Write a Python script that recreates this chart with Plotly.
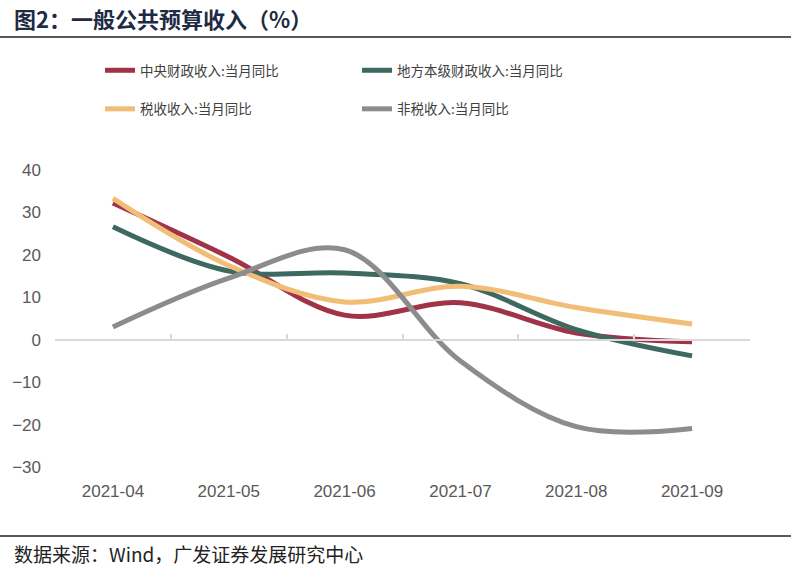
import plotly.graph_objects as go

months = ["2021-04", "2021-05", "2021-06", "2021-07", "2021-08", "2021-09"]
central = [32.2, 19.5, 5.8, 8.7, 1.6, -0.5]
local = [26.6, 16.2, 15.7, 13.2, 2.4, -3.8]
tax = [33.3, 17.5, 8.9, 12.6, 7.6, 3.7]
nontax = [3.0, 14.5, 21.2, -5.0, -20.5, -20.9]

names = ["中央财政收入:当月同比", "地方本级财政收入:当月同比", "税收收入:当月同比", "非税收入:当月同比"]
colors = ["#A03347", "#3E6961", "#F2BD77", "#8C8C8C"]
series = [central, local, tax, nontax]
legends = ["legend", "legend2", "legend", "legend2"]

yticks = [-30, -20, -10, 0, 10, 20, 30, 40]

fig = go.Figure()
for i, (nm, vals, col, lg) in enumerate(zip(names, series, colors, legends)):
    fig.add_trace(go.Scatter(
        x=months, y=vals, name=nm, mode="lines",
        line=dict(color=col, width=5, shape="spline", smoothing=1),
        legend=lg, legendgroup=f"g{i}",
    ))

n = len(months)
cjk = "Noto Sans CJK SC"
fig.update_layout(
    width=791, height=574,
    margin=dict(l=55, r=41, t=170, b=107),
    paper_bgcolor="white", plot_bgcolor="white",
    xaxis=dict(type="category", range=[-0.5, n - 0.5], showline=False, showgrid=False,
               zeroline=False, ticks="", ticklabelstandoff=12,
               tickfont=dict(family="Liberation Sans", size=17, color="#595959")),
    xaxis2=dict(overlaying="x", anchor="free", position=30 / 70, range=[-0.5, n - 0.5],
                tickmode="array", tickvals=[k - 0.5 for k in range(n + 1)],
                ticks="inside", ticklen=5, tickwidth=2, tickcolor="#D9D9D9",
                showticklabels=False, showline=True, linecolor="#D9D9D9", linewidth=2,
                showgrid=False, zeroline=False),
    yaxis=dict(range=[-30, 40], tickvals=yticks, showgrid=False, zeroline=False,
               showline=False, ticks="", ticklabelstandoff=13,
               tickfont=dict(family="Liberation Sans", size=17, color="#595959")),
    legend=dict(x=(100 - 55) / 695, y=(467 - 55) / 297, xanchor="left", yanchor="top",
                tracegroupgap=18, font=dict(family=cjk, size=13.5, color="#404040"),
                bgcolor="rgba(0,0,0,0)"),
    legend2=dict(x=(357 - 55) / 695, y=(467 - 55) / 297, xanchor="left", yanchor="top",
                 tracegroupgap=18, font=dict(family=cjk, size=13.5, color="#404040"),
                 bgcolor="rgba(0,0,0,0)"),
    showlegend=True,
    shapes=[
        dict(type="line", xref="paper", yref="paper", x0=-55 / 695, x1=(791 - 55) / 695,
             y0=(467 - 37) / 297, y1=(467 - 37) / 297, line=dict(color="#222222", width=1.5)),
        dict(type="line", xref="paper", yref="paper", x0=-55 / 695, x1=(791 - 55) / 695,
             y0=(467 - 536) / 297, y1=(467 - 536) / 297, line=dict(color="#222222", width=1.5)),
    ],
    annotations=[
        dict(text="<b>图2：一般公共预算收入（%）</b>", xref="paper", yref="paper",
             x=(12 - 55) / 695, y=(467 - 18) / 297, xanchor="left", yanchor="middle",
             showarrow=False, font=dict(family=cjk, size=22, color="#1F2A44")),
        dict(text="数据来源：Wind，广发证券发展研究中心", xref="paper", yref="paper",
             x=(12 - 55) / 695, y=(467 - 553) / 297, xanchor="left", yanchor="middle",
             showarrow=False, font=dict(family=cjk, size=19, color="#222222")),
    ],
)
# invisible helper trace so the overlay axis (boundary ticks on the zero line) is drawn
fig.add_trace(go.Scatter(x=[None], y=[None], xaxis="x2", showlegend=False, hoverinfo="skip"))

fig.write_html("out.html", config={"displayModeBar": False},
               post_script="document.body.style.margin='0';")
